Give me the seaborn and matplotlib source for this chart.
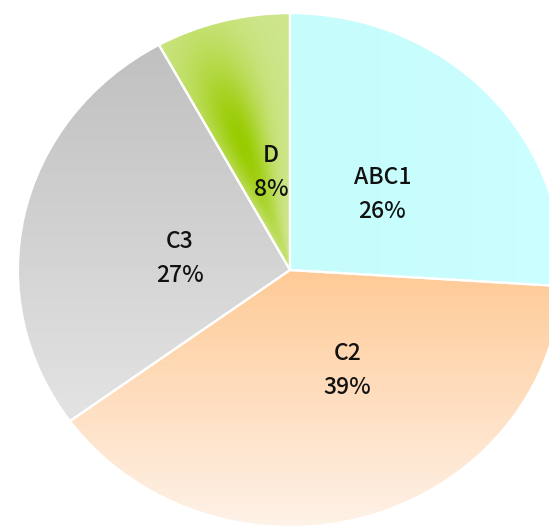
import numpy as np
import matplotlib.pyplot as plt
import seaborn as sns
from matplotlib.colors import to_rgb

sns.set_theme(style="white")
plt.rcParams['font.family'] = ['Noto Sans CJK JP', 'DejaVu Sans']

# data
segments = ["ABC1", "C2", "C3", "D"]
shares = [26, 39, 27, 8]

# label centres (data units, pie radius = 1)
label_xy = [(0.34, 0.295), (0.21, -0.39), (-0.405, 0.045), (-0.07, 0.38)]

fig = plt.figure(figsize=(5.49, 5.29), dpi=100)
ax = fig.add_axes([0, 0, 1, 1])

wedges, _ = ax.pie(shares, startangle=90, counterclock=False,
                   colors=["#caffff", "#ffd8b4", "#d0d0d0", "#c4e070"],
                   wedgeprops=dict(edgecolor="white", linewidth=1.6))

# gradient fills, clipped to each wedge
xs = np.linspace(-1.02, 1.02, 600)
X, Y = np.meshgrid(xs, xs)
R = np.hypot(X, Y)
TH = np.degrees(np.arctan2(Y, X))


def lerp(c1, c2, t):
    a, b = np.array(to_rgb(c1)), np.array(to_rgb(c2))
    t = np.clip(t, 0, 1)[..., None]
    return (1 - t) * a + t * b


fills = [
    lerp("#c6fcfc", "#ccffff", X),
    lerp("#ffca96", "#fef2e8", -Y),
    lerp("#c0c0c0", "#e4e4e4", (0.88 - Y) / 1.5),
    lerp("#cfe68e", "#99cc00",
         np.exp(-((TH - 110) / 10) ** 2) * np.exp(-((R - 0.52) / 0.38) ** 2)),
]

for w, img in zip(wedges, fills):
    im = ax.imshow(img, extent=[-1.02, 1.02, -1.02, 1.02], origin="lower",
                   aspect="auto", interpolation="bilinear", zorder=1)
    im.set_clip_path(w)
    w.set_facecolor("none")
    w.set_zorder(2)

for name, share, (x, y) in zip(segments, shares, label_xy):
    ax.text(x, y, f"{name}\n{share}%", ha="center", va="center",
            fontsize=16.5, fontweight="medium", linespacing=1.6,
            color="#111111", zorder=3)

ax.set_aspect("auto")
ax.set_xlim(-1.066, 0.952)
ax.set_ylim(-1.008, 1.051)
ax.axis("off")

fig.savefig("out.png", dpi=100)
plt.close(fig)
